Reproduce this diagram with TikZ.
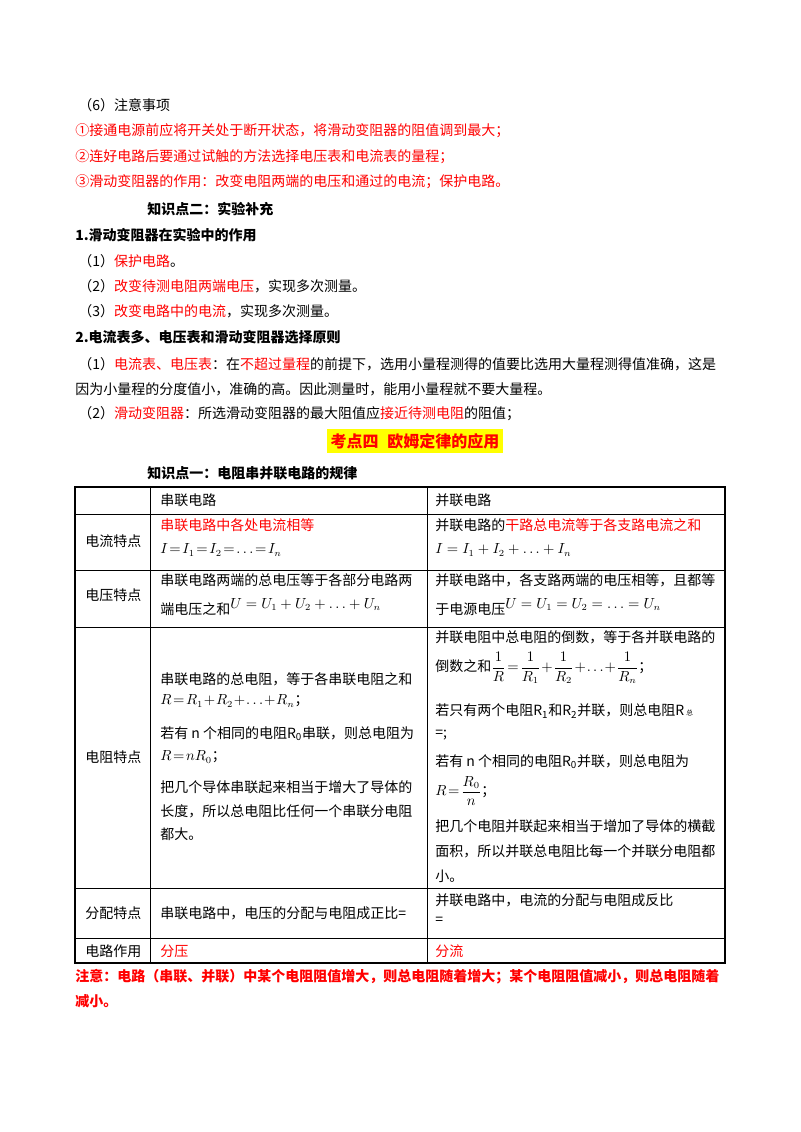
\documentclass[tikz,border=0pt]{standalone}
\usepackage{amsmath}
\usepackage{fontspec}
\newfontfamily\cjk{Noto Sans CJK SC}
\usepackage{xcolor}
\definecolor{hired}{RGB}{255,0,0}
\definecolor{hiyel}{RGB}{255,255,0}
\tikzset{
  txt/.style={anchor=west,inner sep=0pt,font=\cjk\fontsize{10.5}{12}\selectfont},
  bold/.style={txt,font=\cjk\bfseries\fontsize{10.5}{12}\selectfont},
  red/.style={text=hired},
  tline/.style={line width=0.6pt},
  tframe/.style={line width=1.4pt}
}
\begin{document}
\begin{tikzpicture}[x=0.75pt,y=-0.75pt]
\useasboundingbox (0,0) rectangle (800,1132);

%notes
\node [txt] (n6) at (78,105) {（6）注意事项};
\node [txt,red] (n61) at (75,131) {①接通电源前应将开关处于断开状态，将滑动变阻器的阻值调到最大；};
\node [txt,red] (n62) at (75,157) {②连好电路后要通过试触的方法选择电压表和电流表的量程；};
\node [txt,red] (n63) at (75,182) {③滑动变阻器的作用：改变电阻两端的电压和通过的电流；保护电路。};

%supplement
\node [bold] (k2) at (147,209) {知识点二：实验补充};
\node [bold] (s1) at (75,235) {1.滑动变阻器在实验中的作用};
\node [txt] (s11) at (78,261) {（1）\textcolor{hired}{保护电路}。};
\node [txt] (s12) at (78,286) {（2）\textcolor{hired}{改变待测电阻两端电压}，实现多次测量。};
\node [txt] (s13) at (78,311) {（3）\textcolor{hired}{改变电路中的电流}，实现多次测量。};
\node [bold] (s2) at (75,337) {2.电流表多、电压表和滑动变阻器选择原则};
\node [txt] (s21) at (78,364) {（1）\textcolor{hired}{电流表、电压表}：在\textcolor{hired}{不超过量程}的前提下，选用小量程测得的值要比选用大量程测得值准确，这是};
\node [txt] (s22) at (75,389) {因为小量程的分度值小，准确的高。因此测量时，能用小量程就不要大量程。};
\node [txt] (s23) at (78,414) {（2）\textcolor{hired}{滑动变阻器}：所选滑动变阻器的最大阻值应\textcolor{hired}{接近待测电阻}的阻值；};

%title
\node [bold,anchor=center,fill=hiyel,text=hired,inner xsep=3pt,inner ysep=3pt,font=\cjk\bfseries\fontsize{12}{14}\selectfont] (t4) at (415,441) {考点四\;\;欧姆定律的应用};
\node [bold] (k1) at (147,473) {知识点一：电阻串并联电路的规律};

%table
\draw [tframe] (75,487) rectangle (725,963);
\foreach \y in {514,570,627,888,938} \draw [tline] (75,\y) -- (725,\y);
\draw [tline] (150,487) -- (150,963);
\draw [tline] (427,487) -- (427,963);

%row heads
\node [txt] (h1) at (160,500) {串联电路};
\node [txt] (h2) at (435,500) {并联电路};
\node [txt] (r1) at (85,541) {电流特点};
\node [txt] (r2) at (85,595) {电压特点};
\node [txt] (r3) at (85,757) {电阻特点};
\node [txt] (r4) at (85,913) {分配特点};
\node [txt] (r5) at (85,951) {电路作用};

%current
\node [txt,red] (c1) at (160,525) {串联电路中各处电流相等};
\node [txt] (c2) at (160,550) {$I\!=\!I_1\!=\!I_2\!=\!\ldots\!=\!I_n$};
\node [txt] (c3) at (435,525) {并联电路的\textcolor{hired}{干路总电流等于各支路电流之和}};
\node [txt] (c4) at (435,550) {$I=I_1+I_2+\ldots+I_n$};

%voltage
\node [txt] (v1) at (160,580) {串联电路两端的总电压等于各部分电路两};
\node [txt] (v2) at (160,607) {端电压之和\raisebox{4pt}{$U=U_1+U_2+\ldots+U_n$}};
\node [txt] (v3) at (435,580) {并联电路中，各支路两端的电压相等，且都等};
\node [txt] (v4) at (435,607) {于电源电压\raisebox{4pt}{$U=U_1=U_2=\ldots=U_n$}};

%resistance series
\node [txt] (a1) at (160,679) {串联电路的总电阻，等于各串联电阻之和};
\node [txt] (a2) at (160,701) {$R\!=\!R_1\!+\!R_2\!+\!\ldots\!+\!R_n$；};
\node [txt] (a3) at (160,734) {若有 n 个相同的电阻R\textsubscript{0}串联，则总电阻为};
\node [txt] (a4) at (160,757) {$R\!=\!nR_0$；};
\node [txt] (a5) at (160,787) {把几个导体串联起来相当于增大了导体的};
\node [txt] (a6) at (160,811) {长度，所以总电阻比任何一个串联分电阻};
\node [txt] (a7) at (160,834) {都大。};

%resistance parallel
\node [txt] (b1) at (435,637) {并联电阻中总电阻的倒数，等于各并联电路的};
\node [txt] (b2) at (435,668) {倒数之和$\dfrac{1}{R}\!=\!\dfrac{1}{R_1}\!+\!\dfrac{1}{R_2}\!+\!\ldots\!+\!\dfrac{1}{R_n}$；};
\node [txt] (b3) at (435,711) {若只有两个电阻R\textsubscript{1}和R\textsubscript{2}并联，则总电阻R\,{\tiny 总}};
\node [txt] (b4) at (435,735) {=;};
\node [txt] (b5) at (435,762) {若有 n 个相同的电阻R\textsubscript{0}并联，则总电阻为};
\node [txt] (b6) at (435,791) {$R\!=\!\dfrac{R_0}{n}$；};
\node [txt] (b7) at (435,826) {把几个电阻并联起来相当于增加了导体的横截};
\node [txt] (b8) at (435,851) {面积，所以并联总电阻比每一个并联分电阻都};
\node [txt] (b9) at (435,876) {小。};

%distribution
\node [txt] (d1) at (160,913) {串联电路中，电压的分配与电阻成正比=};
\node [txt] (d2) at (435,900) {并联电路中，电流的分配与电阻成反比};
\node [txt] (d3) at (435,921) {=};
\node [txt,red] (e1) at (160,951) {分压};
\node [txt,red] (e2) at (435,951) {分流};

%note
\node [bold,red] (z1) at (75,977) {注意：电路（串联、并联）中某个电阻阻值增大，则总电阻随着增大；某个电阻阻值减小，则总电阻随着};
\node [bold,red] (z2) at (75,1001) {减小。};
\end{tikzpicture}
\end{document}
